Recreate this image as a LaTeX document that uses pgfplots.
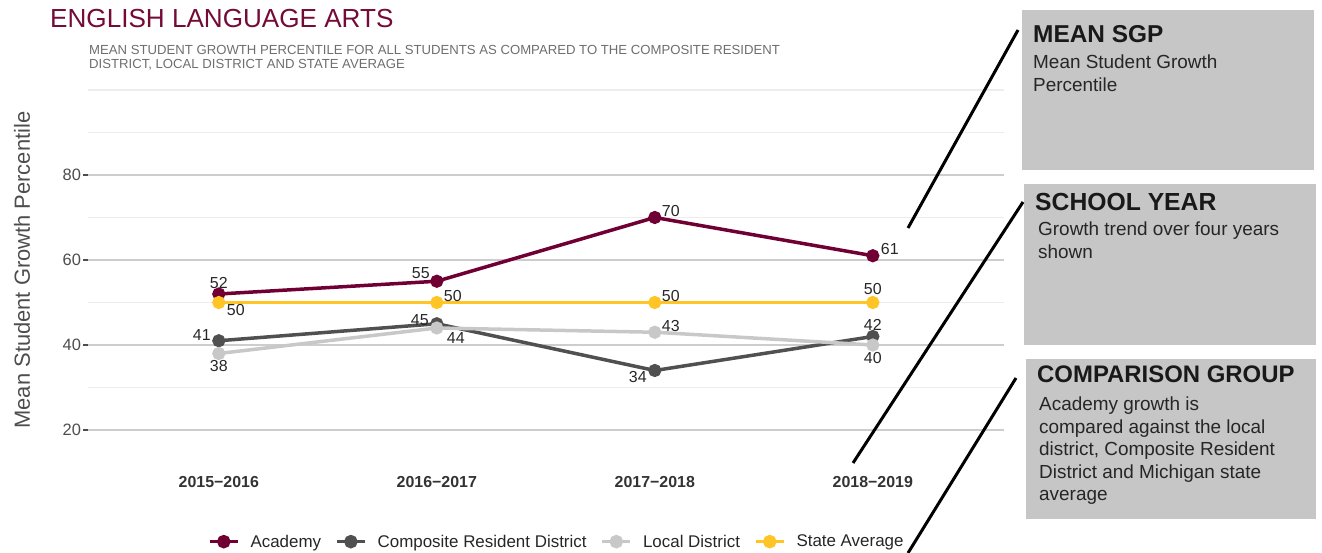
\documentclass[border=0pt]{standalone}
\usepackage{pgfplots}
\pgfplotsset{compat=1.18}
\usepackage{pgfplotstable}
\usepackage{fontspec}
\setmainfont{Liberation Sans}

\definecolor{ACAD}{RGB}{112,0,52}
\definecolor{CRD}{RGB}{80,80,80}
\definecolor{LOCAL}{RGB}{200,200,200}
\definecolor{STATE}{RGB}{255,196,37}
\definecolor{BOXGRAY}{RGB}{198,198,198}
\definecolor{TITLE}{RGB}{115,10,55}
\definecolor{SUB}{RGB}{110,110,110}
\definecolor{TXT}{RGB}{77,77,77}
\definecolor{GRIDMAJ}{RGB}{205,205,205}
\definecolor{GRIDMIN}{RGB}{237,237,237}

% x y and label offset (bp)
\pgfplotstableread{
x y dx dy
0 52 0 11
1 55 -16 8
2 70 16 6
3 61 17 7
}\academy
\pgfplotstableread{
x y dx dy
0 41 -17 6
1 45 -17 4
2 34 -17 -7
3 42 0 12
}\composite
\pgfplotstableread{
x y dx dy
0 38 0 -13
1 44 19 -10
2 43 16 6
3 40 0 -13
}\local
\pgfplotstableread{
x y dx dy
0 50 17 -8
1 50 16 6
2 50 16 6
3 50 0 13
}\state

\pgfplotsset{
  series/.style={#1, line width=3.5bp, mark=*, mark size=4.8bp,
    mark options={solid, fill=#1},
    nodes near coords,
    visualization depends on={\thisrow{dx}\as\labdx},
    visualization depends on={\thisrow{dy}\as\labdy},
    every node near coord/.append style={anchor=center, xshift=\labdx bp,
      yshift=\labdy bp, text=black!85, font=\fontsize{16}{19}\selectfont}},
}

\begin{document}
\begin{tikzpicture}[x=1bp,y=1bp]
\path[use as bounding box] (0,0) rectangle (1322,553);

\begin{axis}[
    at={(88bp,93.25bp)}, anchor=south west,
    x=218bp, y=4.25bp,
    xmin=-0.6, xmax=3.6, ymin=13, ymax=101,
    clip=false,
    axis line style={draw=none},
    xtick={0,1,2,3},
    xticklabels={2015−2016,2016−2017,2017−2018,2018−2019},
    xtick style={draw=none},
    xticklabel style={font=\bfseries\fontsize{16}{19}\selectfont, text=black!80, yshift=-8bp},
    ytick={20,40,60,80},
    yticklabels={20,40,60,80},
    minor ytick={30,50,70,90,100},
    ytick pos=left,
    tick align=outside,
    major tick length=5bp,
    minor tick length=0bp,
    ytick style={TXT, line width=1.2bp},
    yticklabel style={font=\fontsize{16.5}{19}\selectfont, text=TXT, xshift=1.5bp},
    ymajorgrids, yminorgrids,
    major grid style={GRIDMAJ, line width=1.6bp},
    minor grid style={GRIDMIN, line width=1.2bp},
    /pgf/number format/assume math mode=true,
    ylabel={Mean Student Growth Percentile},
    every axis y label/.style={at={(axis description cs:-0.072,0.507)},
      rotate=90, anchor=center, font=\fontsize{22}{24}\selectfont, text=TXT},
    legend style={at={(axis description cs:0.512,-0.219)}, anchor=center,
      draw=none, fill=none, legend columns=-1,
      font=\fontsize{17}{19}\selectfont, text=black!85,
      /tikz/every odd column/.append style={column sep=9bp},
      /tikz/every even column/.append style={column sep=12bp}},
    legend image code/.code={
      \draw[line width=3.5bp] (0bp,0bp) -- (28bp,0bp);
      \fill (14bp,0bp) circle (5bp);},
]
\addplot[series=ACAD] table[x=x,y=y]{\academy};
\addlegendentry{Academy}
\addplot[series=CRD] table[x=x,y=y]{\composite};
\addlegendentry{Composite Resident District}
\addplot[series=LOCAL] table[x=x,y=y]{\local};
\addlegendentry{Local District}
\addplot[series=STATE] table[x=x,y=y]{\state};
\addlegendentry{State Average}
\end{axis}

% title and subtitle
\node[anchor=base west, inner sep=0, text=TITLE, font=\fontsize{26.2}{27}\selectfont]
  at (50,525) {ENGLISH LANGUAGE ARTS};
\node[anchor=base west, inner sep=0, text=SUB, font=\fontsize{13.2}{13.3}\selectfont]
  at (89,498) {\parbox[t]{750bp}{MEAN STUDENT GROWTH PERCENTILE FOR ALL STUDENTS AS COMPARED TO THE COMPOSITE RESIDENT\\DISTRICT, LOCAL DISTRICT AND STATE AVERAGE}};

% side boxes
\fill[BOXGRAY] (1022,383) rectangle (1314,543);
\fill[BOXGRAY] (1024,208) rectangle (1316,369);
\fill[BOXGRAY] (1026,34) rectangle (1316,194);

\node[anchor=base west, inner sep=0, font=\bfseries\fontsize{24.5}{26}\selectfont, text=black!90]
  at (1033,510) {MEAN SGP};
\node[anchor=base west, inner sep=0, text=black!85]
  at (1033,484) {\parbox[t]{275bp}{\fontsize{19}{23}\selectfont Mean Student Growth\\Percentile}};

\node[anchor=base west, inner sep=0, font=\bfseries\fontsize{24.8}{26}\selectfont, text=black!90]
  at (1035,342) {SCHOOL YEAR};
\node[anchor=base west, inner sep=0, text=black!85]
  at (1038,317) {\parbox[t]{275bp}{\fontsize{19}{23}\selectfont Growth trend over four years\\shown}};

\node[anchor=base west, inner sep=0, font=\bfseries\fontsize{24}{26}\selectfont, text=black!90]
  at (1037,170) {COMPARISON GROUP};
\node[anchor=base west, inner sep=0, text=black!85]
  at (1039,142) {\parbox[t]{275bp}{\fontsize{19}{22.5}\selectfont Academy growth is\\compared against the local\\district, Composite Resident\\District and Michigan state\\average}};

% pointer lines
\draw[black, line width=3bp] (908,325) -- (1018,523);
\draw[black, line width=3bp] (853,90) -- (1023,351);
\draw[black, line width=3bp] (908,0) -- (1016,175);
\end{tikzpicture}
\end{document}
